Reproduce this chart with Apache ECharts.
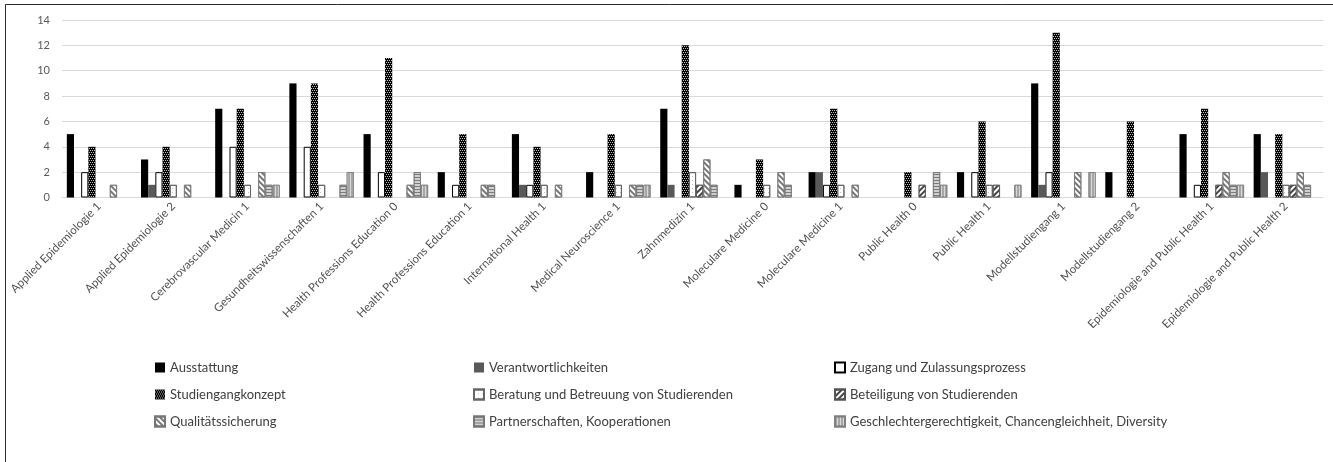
<!DOCTYPE html>
<html>
<head>
<meta charset="utf-8">
<script src="https://cdn.jsdelivr.net/npm/echarts@6/dist/echarts.min.js"></script>
<style>
  html, body { margin: 0; padding: 0; background: #fff; }
  #chart { width: 1333px; height: 462px; }
</style>
</head>
<body>
<div id="chart"></div>
<script>
// Study programmes on the category axis
const categories = [
  'Applied Epidemiologie 1', 'Applied Epidemiologie 2', 'Cerebrovascular Medicin 1',
  'Gesundheitswissenschaften 1', 'Health Professions Education 0', 'Health Professions Education 1',
  'International Health 1', 'Medical Neuroscience 1', 'Zahnmedizin 1',
  'Moleculare Medicine 0', 'Moleculare Medicine 1', 'Public Health 0', 'Public Health 1',
  'Modellstudiengang 1', 'Modellstudiengang 2', 'Epidemiologie and Public Health 1',
  'Epidemiologie and Public Health 2'
];

// Counts per topic, one value per programme
const ausstattung          = [5, 3, 7, 9, 5, 2, 5, 2, 7, 1, 2, 0, 2, 9, 2, 5, 5];
const verantwortlichkeiten = [0, 1, 0, 0, 0, 0, 1, 0, 1, 0, 2, 0, 0, 1, 0, 0, 2];
const zugang               = [2, 2, 4, 4, 2, 1, 1, 0, 0, 0, 1, 0, 2, 2, 0, 1, 0];
const studiengangkonzept   = [4, 4, 7, 9, 11, 5, 4, 5, 12, 3, 7, 2, 6, 13, 6, 7, 5];
const beratung             = [0, 1, 1, 1, 0, 0, 1, 1, 2, 1, 1, 0, 1, 0, 0, 0, 1];
const beteiligung          = [0, 0, 0, 0, 0, 0, 0, 0, 1, 0, 0, 1, 1, 0, 0, 1, 1];
const qualitaet            = [1, 1, 2, 0, 1, 1, 1, 1, 3, 2, 1, 0, 0, 2, 0, 2, 2];
const partnerschaften      = [0, 0, 1, 1, 2, 1, 0, 1, 1, 1, 0, 2, 0, 0, 0, 1, 1];
const geschlechter         = [0, 0, 1, 2, 1, 0, 0, 1, 0, 0, 0, 1, 1, 2, 0, 1, 0];

// Y axis ticks
const yTicks = [0, 2, 4, 6, 8, 10, 12, 14];

const seriesNames = [
  'Ausstattung', 'Verantwortlichkeiten', 'Zugang und Zulassungsprozess',
  'Studiengangkonzept', 'Beratung und Betreuung von Studierenden', 'Beteiligung von Studierenden',
  'Qualitätssicherung', 'Partnerschaften, Kooperationen',
  'Geschlechtergerechtigkeit, Chancengleichheit, Diversity'
];
const seriesData = [ausstattung, verantwortlichkeiten, zugang, studiengangkonzept, beratung,
  beteiligung, qualitaet, partnerschaften, geschlechter];

// Fill and pattern for each topic
const styles = [
  { color: '#000000' },
  { color: '#595959' },
  { color: '#ffffff', borderColor: '#000000', borderWidth: 1 },
  { color: '#000000', decal: { symbol: 'rect', symbolSize: 1, color: 'rgba(255,255,255,0.75)',
      dashArrayX: [[1, 1], [0, 1, 1, 0]], dashArrayY: [1, 1] } },
  { color: '#ffffff', borderColor: '#666666', borderWidth: 1,
    decal: { symbol: 'rect', symbolSize: 1, color: 'rgba(0,0,0,0.25)', dashArrayX: [1, 3], dashArrayY: [1, 3] } },
  { color: '#ffffff', borderColor: '#555555', borderWidth: 0.8,
    decal: { symbol: 'rect', symbolSize: 1, color: '#444444', dashArrayX: [1, 0], dashArrayY: [1.5, 2], rotation: -Math.PI / 4 } },
  { color: '#ffffff', borderColor: '#777777', borderWidth: 0.8,
    decal: { symbol: 'rect', symbolSize: 1, color: '#777777', dashArrayX: [1, 0], dashArrayY: [2, 2], rotation: Math.PI / 4 } },
  { color: '#d0d0d0', borderColor: '#777777', borderWidth: 0.8,
    decal: { symbol: 'rect', symbolSize: 1, color: '#7a7a7a', dashArrayX: [1, 0], dashArrayY: [1, 1.5], rotation: 0 } },
  { color: '#a6a6a6', borderColor: '#808080', borderWidth: 0.8,
    decal: { symbol: 'rect', symbolSize: 1, color: '#d9d9d9', dashArrayX: [1, 0], dashArrayY: [1, 1.5], rotation: Math.PI / 2 } }
];

// Empty cells draw no bar at all
const series = seriesNames.map((name, i) => ({
  name: name,
  type: 'bar',
  data: seriesData[i].map(v => (v === 0 ? '-' : v)),
  barGap: '0%',
  barCategoryGap: '13%',
  itemStyle: styles[i],
  emphasis: { disabled: true },
  animation: false
}));

const FONT = 'Lato';
const legendText = { fontFamily: FONT, fontSize: 13, color: '#404040' };
function column(names, left) {
  return {
    orient: 'vertical',
    left: left,
    top: 356,
    icon: 'rect',
    itemWidth: 10,
    itemHeight: 10,
    itemGap: 14,
    data: names,
    textStyle: legendText,
    selectedMode: false
  };
}

const chart = echarts.init(document.getElementById('chart'), null, { renderer: 'canvas' });
chart.setOption({
  backgroundColor: '#ffffff',
  animation: false,
  graphic: [{
    type: 'rect',
    shape: { x: 5.5, y: 4.5, width: 1400, height: 500 },
    style: { fill: 'none', stroke: '#2b2b2b', lineWidth: 1 },
    silent: true
  }],
  legend: [
    column([seriesNames[0], seriesNames[3], seriesNames[6]], 149),
    column([seriesNames[1], seriesNames[4], seriesNames[7]], 468),
    column([seriesNames[2], seriesNames[5], seriesNames[8]], 829)
  ],
  grid: { left: 62, right: 10, top: 20, bottom: 264.5, containLabel: false },
  xAxis: {
    type: 'category',
    data: categories,
    axisLine: { lineStyle: { color: '#d9d9d9' } },
    axisTick: { show: false },
    axisLabel: {
      rotate: 45,
      interval: 0,
      margin: 7,
      fontFamily: FONT,
      fontSize: 11.5,
      color: '#505050'
    }
  },
  yAxis: {
    type: 'value',
    min: yTicks[0],
    max: yTicks[yTicks.length - 1],
    interval: yTicks[1] - yTicks[0],
    axisLine: { show: false },
    axisTick: { show: false },
    splitLine: { lineStyle: { color: '#d9d9d9' } },
    axisLabel: { fontFamily: FONT, fontSize: 11, color: '#595959', margin: 12 }
  },
  series: series
});
</script>
</body>
</html>
